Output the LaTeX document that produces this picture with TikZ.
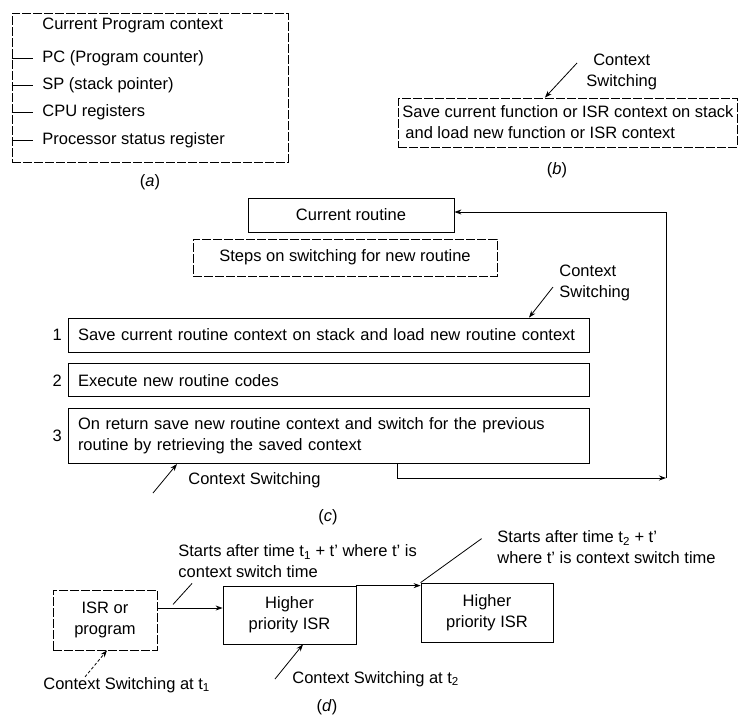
\documentclass[tikz,border=0pt]{standalone}
\usepackage{fontspec}
\setmainfont{Liberation Sans}
\usetikzlibrary{positioning,arrows.meta}

\begin{document}
\begin{tikzpicture}[
    x=1pt, y=-1pt,
    font=\fontsize{16.5}{21}\selectfont,
    line width=0.8pt,
    node distance=11pt,
    frame/.style={draw, inner sep=0pt},
    dframe/.style={frame, dash pattern=on 9pt off 2pt},
    stepbox/.style={draw, align=left, text width=501pt, inner xsep=10pt,
      inner ysep=0pt, minimum height=#1},
    txt/.style={inner sep=0pt, align=left},
    arr/.style={-{Stealth[length=7pt,width=5pt]}}
  ]
  \useasboundingbox (0,0) rectangle (749,716);

  % (a) program context
  \node[dframe, minimum width=276pt, minimum height=149pt] (ctx) at (150,87.5) {};
  \node[txt, anchor=west] (title) at (42,25) {Current Program context};
  \node[txt, anchor=west] (pc) at (42,58) {PC (Program counter)};
  \node[txt, anchor=west] (sp) at (42,85) {SP (stack pointer)};
  \node[txt, anchor=west] (regs) at (42,112) {CPU registers};
  \node[txt, anchor=west] (psr) at (42,140) {Processor status register};
  \draw (ctx.west |- pc) -- ++(21,0);
  \draw (ctx.west |- sp) -- ++(21,0);
  \draw (ctx.west |- regs) -- ++(21,0);
  \draw (ctx.west |- psr) -- ++(21,0);
  \node (capA) at (150,182) {(\textit{a})};

  % (b) what a switch does
  \node[dframe, inner xsep=4pt, inner ysep=6pt, align=left, anchor=west,
    minimum height=49pt] (save) at (398,122.5)
    {Save current function or ISR context on stack\\\hspace*{3pt}and load new function or ISR context};
  \node[txt, align=center, anchor=west] (csB) at (586,71.5) {Context\\Switching};
  \draw[arr] ([shift={(-9pt,8.5pt)}]csB.west) -- ([xshift=-23pt]save.north);
  \node (capB) at (557,170) {(\textit{b})};

  % (c) steps
  \node[frame, minimum width=206pt, minimum height=34pt] (cur) at (351,215) {Current routine};
  \node[dframe, minimum width=304pt, minimum height=37pt] (hdr) at (345,257.5)
    {Steps on switching for new routine};
  \node[stepbox=34pt] (s1) at (328.5,335)
    {Save current routine context on stack and load new routine context};
  \node[stepbox=33pt, below=of s1] (s2) {Execute new routine codes};
  \node[stepbox=55pt, below=of s2] (s3)
    {On return save new routine context and switch for the previous\\routine by retrieving the saved context};
  \node[left=2pt of s1] (n1) {1};
  \node[left=2pt of s2] (n2) {2};
  \node[left=2pt of s3] (n3) {3};
  \coordinate (loopR) at (666,478);
  \draw[arr] ([xshift=68.5pt]s3.south) |- (loopR);
  \draw[arr] (loopR) |- ([yshift=3pt]cur.east);
  \node[txt, anchor=west] (csC) at (559,282.5) {Context\\Switching};
  \draw[arr] ([shift={(-6pt,-4.5pt)}]csC.west) -- ([xshift=200.5pt]s1.north);
  \node[txt, anchor=west] (csD) at (188,480) {Context Switching};
  \draw[arr] ([shift={(-35pt,-13pt)}]csD.west) -- ([xshift=-151.5pt]s3.south);
  \node (capC) at (328,517) {(\textit{c})};

  % (d) nested ISRs
  \node[dframe, minimum width=104pt, minimum height=60pt, align=center] (isr) at (105,620)
    {ISR or\\program};
  \node[frame, minimum width=133pt, minimum height=58pt, align=center] (hpA) at (289.5,615)
    {Higher\\priority ISR};
  \node[frame, minimum width=132pt, minimum height=59pt, align=center] (hpB) at (487,612.5)
    {Higher\\priority ISR};
  \coordinate (isrOut) at ([yshift=12pt]isr.east);
  \draw[arr] (isrOut) -- (isrOut -| hpA.west);
  \draw[arr] (hpA.north east) -- (hpA.north east -| hpB.west);
  \node[txt, anchor=west] (stA) at (178,561.5)
    {Starts after time t\textsubscript{1} + t’ where t’ is\\context switch time};
  \draw ([shift={(14pt,-5pt)}]stA.south west) -- ++(-19,21);
  \node[txt, anchor=west] (stB) at (497,547.5)
    {Starts after time t\textsubscript{2} + t’\\where t’ is context switch time};
  \draw (hpB.north west) -- ++(61,-44);
  \node[txt, anchor=west] (csE) at (43,685) {Context Switching at t\textsubscript{1}};
  \draw[arr, densely dashed] ([xshift=42pt]csE.north west) -- ([xshift=2pt]isr.south);
  \node[txt, anchor=west] (csF) at (292,679) {Context Switching at t\textsubscript{2}};
  \draw[arr] ([xshift=-17pt]csF.west) -- ([xshift=13.5pt]hpA.south);
  \node (capD) at (327,707) {(\textit{d})};
\end{tikzpicture}
\end{document}
